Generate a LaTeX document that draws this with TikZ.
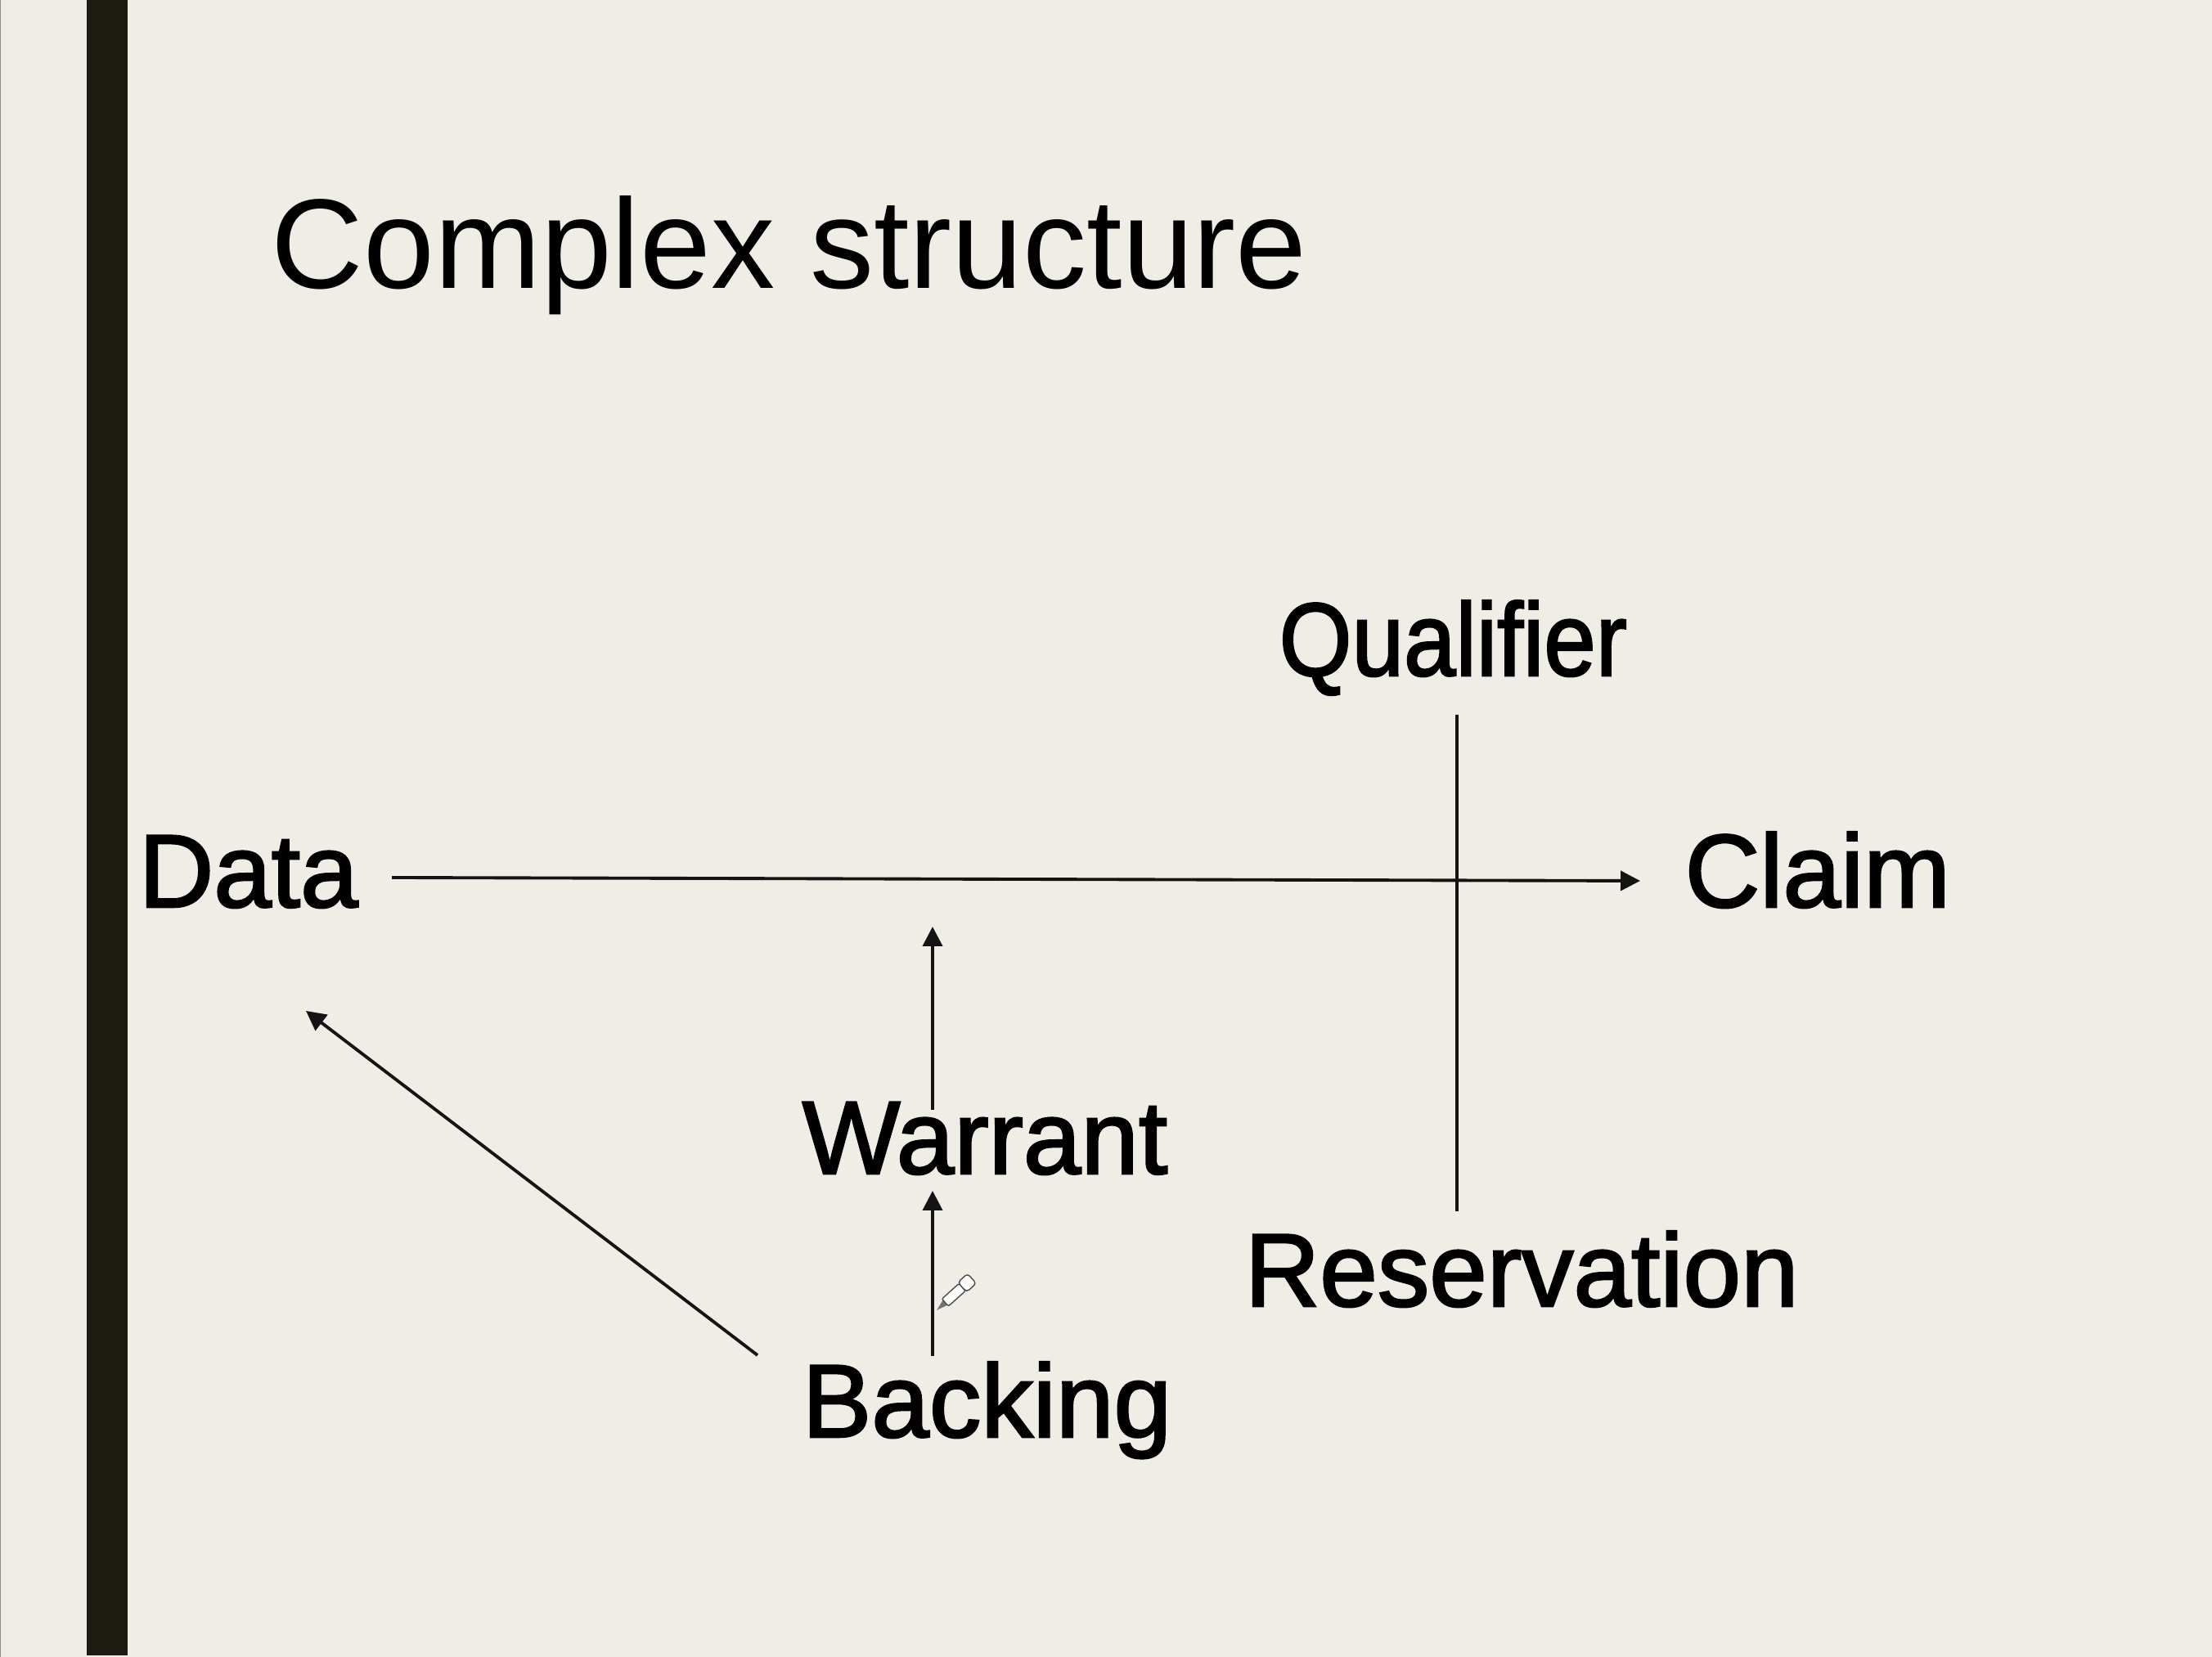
\documentclass[tikz,border=0pt]{standalone}
\usepackage{fontspec}
\usepackage{xcolor}
\usepackage{graphicx}
\usetikzlibrary{arrows.meta}
\setmainfont{Liberation Sans}
\newfontfamily\termfont[FakeBold=2]{Liberation Sans}
\definecolor{slidebg}{HTML}{EFEDE5}
\definecolor{stripe}{HTML}{1C1B12}
\tikzset{
  title/.style={anchor=base west, inner sep=0pt, font=\fontsize{44.4pt}{48pt}\selectfont},
  term/.style={anchor=base west, inner sep=0pt, font=\termfont\fontsize{36.1pt}{40pt}\selectfont},
  link/.style={line width=1.1pt, black!92},
  arrow/.style={link, -{Triangle[length=0.24cm, width=0.24cm]}}
}

\begin{document}
\begin{tikzpicture}
  % Draw slide background
  \fill[slidebg] (0, 0) rectangle (27.04, 20.26);
  \useasboundingbox (0, 0) rectangle (27.04, 20.26);
  \fill[black!45] (0, 0) rectangle (0.015, 20.26);
  \fill[stripe] (1.06, 0.02) rectangle (1.56, 20.26);

  % Draw title
  \node[title] (heading) at (3.31, 16.73) {Complex structure};

  % Draw terms
  \node[term] (data) at (1.69, 9.17) {Data};
  \node[term] (claim) at (20.59, 9.17) {Claim};
  \node[term] (qualifier) at (15.63, 12.00) {\scalebox{0.9}[1]{Qualifier}};
  \node[term] (warrant) at (9.80, 5.91) {Warrant};
  \node[term] (reservation) at (15.21, 4.29) {Reservation};
  \node[term] (backing) at (9.80, 2.69) {Backing};

  % Draw data to claim
  \draw[arrow] ([shift={(3.10, 0.36)}]data.base west) -- ([shift={(-0.54, 0.32)}]claim.base west);
  % Draw qualifier to reservation
  \draw[link] ([shift={(2.18, -0.48)}]qualifier.base west) -- ([shift={(2.60, 1.16)}]reservation.base west);
  % Draw warrant up to the main line
  \draw[arrow] ([shift={(1.60, 0.78)}]warrant.base west) -- ([shift={(1.60, 3.02)}]warrant.base west);
  % Draw backing to warrant
  \draw[arrow] ([shift={(1.60, 0.99)}]backing.base west) -- ([shift={(1.60, -0.21)}]warrant.base west);
  % Draw backing to data
  \draw[arrow] ([shift={(-0.54, 1.00)}]backing.base west) -- ([shift={(2.05, -1.27)}]data.base west);

  % Draw pen cursor
  \begin{scope}[shift={(11.45, 4.24)}, rotate=42]
    \fill[black!55] (0, 0) -- (0.17, 0.05) -- (0.17, -0.05) -- cycle;
    \draw[black!70, fill=white, line width=0.4pt, rounded corners=0.02cm] (0.14, -0.06) rectangle (0.42, 0.06);
    \draw[black!70, fill=white, line width=0.4pt, rounded corners=0.04cm] (0.42, -0.08) rectangle (0.58, 0.08);
  \end{scope}
\end{tikzpicture}
\end{document}
